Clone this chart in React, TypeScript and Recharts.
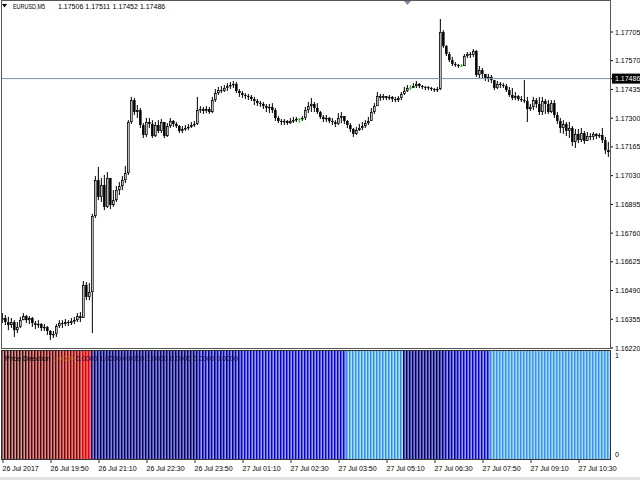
import React from 'react';
import { ComposedChart, BarChart, Bar, XAxis, YAxis, ReferenceLine } from 'recharts';

const FONT = '"Liberation Sans", Arial, sans-serif';

const symbolName = 'EURUSD,M5';
const lastBarOHLC = ['1.17506', '1.17511', '1.17452', '1.17486'];
const bidPrice = 1.17486;
const priceTicks = [1.17705, 1.1757, 1.17435, 1.173, 1.17165, 1.1703, 1.16895, 1.1676, 1.16625, 1.1649, 1.16355, 1.1622];
const priceDomain = [1.1622, 1.178507];

const timeTickBars = [0, 16, 32, 48, 64, 80, 96, 112, 128, 144, 160, 176, 192];
const timeLabels = [
  '26 Jul 2017', '26 Jul 19:50', '26 Jul 21:10', '26 Jul 22:30', '26 Jul 23:50',
  '27 Jul 01:10', '27 Jul 02:30', '27 Jul 03:50', '27 Jul 05:10', '27 Jul 06:30',
  '27 Jul 07:50', '27 Jul 09:10', '27 Jul 10:30',
];

const firstOpen = 1.16351;
const closes = [
  1.16361, 1.16342, 1.16328, 1.16342, 1.16304, 1.16319, 1.16351, 1.1637, 1.16351, 1.16361,
  1.16337, 1.16328, 1.16333, 1.16314, 1.16319, 1.163, 1.16281, 1.16286, 1.16323, 1.16337,
  1.16333, 1.16342, 1.16337, 1.16347, 1.16351, 1.1637, 1.16361, 1.16516, 1.1646, 1.16483,
  1.1684, 1.17009, 1.1693, 1.16986, 1.16883, 1.17019, 1.16892, 1.16915, 1.16962, 1.16981,
  1.17009, 1.17042, 1.17282, 1.17385, 1.17329, 1.17338, 1.17268, 1.17221, 1.17282, 1.17273,
  1.17216, 1.17268, 1.1724, 1.17282, 1.17216, 1.17263, 1.17287, 1.17273, 1.17263, 1.1724,
  1.17249, 1.17254, 1.17259, 1.17268, 1.17273, 1.17338, 1.17343, 1.17334, 1.17343, 1.17329,
  1.17385, 1.17418, 1.17432, 1.17428, 1.17442, 1.17451, 1.17456, 1.17461, 1.17428, 1.17418,
  1.17409, 1.17404, 1.174, 1.1739, 1.17381, 1.17371, 1.17367, 1.17357, 1.17348, 1.17353,
  1.17338, 1.17301, 1.17287, 1.17282, 1.17287, 1.17277, 1.17287, 1.17291, 1.17296, 1.17296,
  1.17301, 1.17338, 1.17357, 1.17367, 1.17348, 1.17329, 1.17306, 1.17296, 1.17301, 1.17287,
  1.17282, 1.17273, 1.17301, 1.1731, 1.17287, 1.17268, 1.17249, 1.17226, 1.17244, 1.17254,
  1.17263, 1.17277, 1.17287, 1.17329, 1.17357, 1.17404, 1.17395, 1.17404, 1.17395, 1.174,
  1.1739, 1.17385, 1.17395, 1.17414, 1.17428, 1.17442, 1.17442, 1.17451, 1.17461, 1.17451,
  1.17447, 1.17446, 1.17442, 1.17437, 1.17432, 1.17437, 1.17705, 1.17639, 1.17602, 1.17573,
  1.17555, 1.1755, 1.17545, 1.17545, 1.17592, 1.17602, 1.17597, 1.17616, 1.17503, 1.17526,
  1.17508, 1.17489, 1.17494, 1.17479, 1.17442, 1.17461, 1.17456, 1.17451, 1.17432, 1.17409,
  1.17395, 1.17404, 1.1739, 1.17385, 1.17381, 1.17343, 1.17353, 1.17385, 1.17367, 1.17329,
  1.17381, 1.17367, 1.17329, 1.17371, 1.17315, 1.17287, 1.17254, 1.17273, 1.1724, 1.17254,
  1.17188, 1.17226, 1.17197, 1.1723, 1.17193, 1.17216, 1.17212, 1.17226, 1.17216, 1.17221,
  1.17197, 1.1715, 1.17141,
];
const highs = [
  1.16384, 1.16375, 1.16366, 1.16361, 1.16351, 1.16342, 1.16366, 1.16384, 1.16375, 1.1637,
  1.16366, 1.16347, 1.16351, 1.16337, 1.16333, 1.16323, 1.16304, 1.163, 1.16333, 1.16351,
  1.16351, 1.16356, 1.16351, 1.16361, 1.16366, 1.16384, 1.16389, 1.16535, 1.1653, 1.16525,
  1.1685, 1.17028, 1.17071, 1.17019, 1.17033, 1.17047, 1.16986, 1.16962, 1.16981, 1.17,
  1.17028, 1.17075, 1.17291, 1.174, 1.17395, 1.17362, 1.17348, 1.17277, 1.17301, 1.17301,
  1.17291, 1.17282, 1.17291, 1.17296, 1.17268, 1.17277, 1.17301, 1.17291, 1.17282, 1.17268,
  1.17263, 1.17268, 1.17273, 1.17282, 1.17287, 1.174, 1.17357, 1.17353, 1.17357, 1.17353,
  1.174, 1.17437, 1.17447, 1.17451, 1.17456, 1.17465, 1.1747, 1.17475, 1.1747, 1.17437,
  1.17428, 1.17418, 1.17414, 1.17409, 1.174, 1.1739, 1.17381, 1.17376, 1.17367, 1.17367,
  1.17371, 1.17348, 1.1731, 1.17296, 1.17296, 1.17291, 1.17301, 1.17306, 1.17306, 1.17301,
  1.1731, 1.17353, 1.17376, 1.17395, 1.17376, 1.17371, 1.17334, 1.17315, 1.17315, 1.17306,
  1.17301, 1.17291, 1.17324, 1.17329, 1.1731, 1.17291, 1.17277, 1.17254, 1.17259, 1.17273,
  1.17282, 1.17291, 1.17306, 1.17348, 1.17371, 1.17423, 1.17414, 1.17414, 1.17404, 1.17409,
  1.17404, 1.174, 1.17404, 1.17423, 1.17447, 1.17456, 1.17456, 1.17465, 1.17475, 1.17465,
  1.17456, 1.17451, 1.17451, 1.17447, 1.17442, 1.17447, 1.17766, 1.17714, 1.17644, 1.17611,
  1.17588, 1.17564, 1.17555, 1.17555, 1.17602, 1.17611, 1.17611, 1.17625, 1.1762, 1.17545,
  1.17536, 1.17503, 1.17508, 1.17503, 1.17479, 1.17475, 1.1747, 1.17465, 1.17461, 1.17447,
  1.17442, 1.17423, 1.17409, 1.17404, 1.17479, 1.174, 1.17367, 1.174, 1.17395, 1.174,
  1.174, 1.1739, 1.17385, 1.17385, 1.17385, 1.17329, 1.17301, 1.17291, 1.17282, 1.17282,
  1.17263, 1.17249, 1.17249, 1.17254, 1.1724, 1.17235, 1.1723, 1.17235, 1.1723, 1.1723,
  1.17254, 1.17212, 1.17188,
];
const lows = [
  1.16337, 1.16328, 1.16304, 1.16314, 1.16272, 1.1629, 1.16314, 1.16351, 1.16337, 1.16333,
  1.16319, 1.16309, 1.16314, 1.163, 1.163, 1.16281, 1.16257, 1.16267, 1.16272, 1.16314,
  1.16314, 1.16323, 1.16323, 1.16328, 1.16333, 1.16342, 1.16342, 1.16361, 1.16445, 1.16445,
  1.1629, 1.16831, 1.16915, 1.16906, 1.16868, 1.16878, 1.16873, 1.16883, 1.16906, 1.16939,
  1.16962, 1.16995, 1.17033, 1.17273, 1.17315, 1.17301, 1.17254, 1.17207, 1.17212, 1.17254,
  1.17207, 1.17212, 1.1723, 1.1723, 1.17207, 1.17212, 1.17254, 1.17259, 1.17254, 1.1723,
  1.1723, 1.1724, 1.17244, 1.17254, 1.17259, 1.17268, 1.17324, 1.1732, 1.17324, 1.1732,
  1.17324, 1.17376, 1.17409, 1.17418, 1.17423, 1.17428, 1.17437, 1.17442, 1.17418, 1.174,
  1.17395, 1.1739, 1.17385, 1.17381, 1.17362, 1.17357, 1.17353, 1.17343, 1.17329, 1.17324,
  1.17324, 1.17287, 1.17277, 1.17268, 1.17268, 1.17268, 1.17273, 1.17277, 1.17282, 1.17277,
  1.17287, 1.17291, 1.17324, 1.17329, 1.17329, 1.1732, 1.17296, 1.17282, 1.17282, 1.17277,
  1.17268, 1.17259, 1.17268, 1.17277, 1.17273, 1.17254, 1.17235, 1.17212, 1.17221, 1.1724,
  1.17244, 1.17254, 1.17268, 1.17287, 1.1732, 1.17357, 1.17381, 1.17385, 1.17385, 1.17385,
  1.17376, 1.17376, 1.17376, 1.17385, 1.17409, 1.17423, 1.17432, 1.17442, 1.17442, 1.17442,
  1.17437, 1.17432, 1.17432, 1.17428, 1.17423, 1.17423, 1.17432, 1.1763, 1.17592, 1.17564,
  1.17545, 1.17541, 1.17536, 1.17541, 1.17545, 1.17583, 1.17583, 1.17588, 1.17494, 1.17489,
  1.17489, 1.17475, 1.1747, 1.17465, 1.17432, 1.17437, 1.17442, 1.17442, 1.17423, 1.174,
  1.17385, 1.17385, 1.17381, 1.17376, 1.17371, 1.17282, 1.17334, 1.17338, 1.17348, 1.17315,
  1.17315, 1.1732, 1.1732, 1.17324, 1.17301, 1.17273, 1.1723, 1.17226, 1.17216, 1.17207,
  1.17169, 1.1716, 1.17183, 1.17188, 1.17179, 1.17193, 1.17197, 1.17197, 1.17202, 1.17207,
  1.17183, 1.17132, 1.17118,
];

const indicatorName = 'Price Direction';
const indicatorValues = ['1.0000', '0.0000', '1.0000', '0.0000', '1.0000', '0.0000', '0.0000', '0.0000'];
const indicatorValueLevels = ['maroon', 'navy', 'navy', 'navy', 'navy', 'navy', 'navy', 'navy'];

// run-length list of the direction histogram: [bar count, level, value]
const directionRuns: [number, string, number][] = [
  [9, 'maroonDeep', 1], [11, 'maroon', 1], [7, 'darkRed', 1], [3, 'red', 1],
  [35, 'navy', 1],
  [1, 'navy', 1], [1, 'blue', 1], [1, 'navy', 1], [1, 'blue', 1],
  [1, 'navy', 1], [1, 'blue', 1], [1, 'navy', 1], [1, 'blue', 1],
  [1, 'navy', 1], [1, 'blue', 1], [1, 'navy', 1], [1, 'blue', 1],
  [1, 'navy', 1], [1, 'blue', 1], [1, 'navy', 1], [1, 'blue', 1],
  [34, 'blue', 1], [19, 'dodger', 1], [13, 'navy', 1],
  [1, 'navy', 1], [1, 'blue', 1], [1, 'navy', 1], [1, 'blue', 1], [1, 'navy', 1], [1, 'blue', 1],
  [10, 'blue', 1], [40, 'sky', 1],
];

const levelPalette: Record<string, { main: string; tint: string; text: string }> = {
  maroonDeep: { main: '#4a0000', tint: '#b07878', text: '#8b4513' },
  maroon: { main: '#660000', tint: '#b86262', text: '#b8621b' },
  darkRed: { main: '#8c0000', tint: '#d05050', text: '#8b4513' },
  red: { main: '#e80000', tint: '#ff2a2a', text: '#ff0000' },
  navy: { main: '#00006e', tint: '#4e4eb4', text: '#0a0a3a' },
  blue: { main: '#0000e8', tint: '#7a7aff', text: '#0a0a3a' },
  dodger: { main: '#1e90ff', tint: '#a0d0ff', text: '#1e90ff' },
  sky: { main: '#2f95ff', tint: '#90c8ff', text: '#1e90ff' },
};

const candleData = closes.map((c, i) => {
  const o = i === 0 ? firstOpen : closes[i - 1];
  const h = Math.max(highs[i], o, c);
  const l = Math.min(lows[i], o, c);
  return { i, open: o, high: h, low: l, close: c, range: [l, h] };
});

const directionData: { i: number; v: number; level: string }[] = [];
directionRuns.forEach(([count, level, value]) => {
  for (let k = 0; k < count; k++) directionData.push({ i: directionData.length, v: value, level });
});

const timeLabelByBar: Record<number, string> = {};
timeTickBars.forEach((b, k) => { timeLabelByBar[b] = timeLabels[k]; });

const Candle = (props: any) => {
  const { x, y, width, height, payload } = props;
  if (!payload || x == null || y == null) return null;
  const top = Math.min(y, y + height);
  const bottom = Math.max(y, y + height);
  const { open, high, low, close } = payload;
  const span = high - low;
  const toY = (v: number) => (span > 0 ? top + ((high - v) / span) * (bottom - top) : top);
  const bw = 2.5;
  const bx = x + (width - bw) / 2;
  const cx = bx + bw / 2;
  const yo = toY(open);
  const yc = toY(close);
  if (open === close) {
    return (
      <g>
        <rect x={cx - 0.5} y={top} width={1} height={Math.max(bottom - top, 1)} fill="#00d000" />
        <rect x={bx} y={yo - 0.5} width={bw} height={1} fill="#00d000" />
      </g>
    );
  }
  const bTop = Math.min(yo, yc);
  const bH = Math.max(Math.abs(yo - yc), 1);
  const up = close > open;
  return (
    <g>
      <rect x={cx - 0.5} y={top} width={1} height={Math.max(bottom - top, 1)} fill="#000" />
      {up ? (
        <rect x={bx + 0.4} y={bTop + 0.4} width={bw - 0.8} height={Math.max(bH - 0.8, 0.5)} fill="#e8e8e8" stroke="#000" strokeWidth={0.8} />
      ) : (
        <rect x={bx} y={bTop} width={bw} height={bH} fill="#000" />
      )}
    </g>
  );
};

const DirectionBar = (props: any) => {
  const { x, y, width, height, payload } = props;
  if (!payload || x == null) return null;
  const pal = levelPalette[payload.level];
  const top = Math.min(y, y + height);
  const h = Math.abs(height);
  return (
    <g>
      <rect x={x} y={top} width={width - 1} height={h} fill={pal.main} />
      <rect x={x + width - 1} y={top} width={1} height={h} fill={pal.tint} />
    </g>
  );
};

const PriceTick = (props: any) => {
  const { x, y, payload } = props;
  const v = payload.value as number;
  const label = v.toFixed(5);
  if (v === bidPrice) {
    return (
      <g>
        <rect x={x - 3} y={y - 5} width={28} height={10} fill="#000" />
        <text x={x} y={y} dy={2.5} fill="#fff" fontSize={7} fontFamily={FONT}>{label}</text>
      </g>
    );
  }
  return <text x={x} y={y} dy={2.5} fill="#000" fontSize={7} fontFamily={FONT}>{label}</text>;
};

const LevelTick = (props: any) => {
  const { x, y, payload } = props;
  const v = payload.value as number;
  const dy = v >= 1 ? 6.5 : -2.5;
  return <text x={x} y={y} dy={dy} fill="#000" fontSize={7} fontFamily={FONT}>{String(v)}</text>;
};

const TimeTick = (props: any) => {
  const { x, y, payload } = props;
  const label = timeLabelByBar[payload.value as number];
  if (!label) return null;
  const tx = Math.round(x) - 0.5;
  return (
    <g>
      <rect x={tx} y={y + 1} width={1} height={3} fill="#333" />
      <text x={tx} y={y + 11.5} fill="#000" fontSize={7} fontFamily={FONT}>{label}</text>
    </g>
  );
};

export default function App() {
  return (
    <div style={{ position: 'absolute', left: 0, top: 0, width: 640, height: 480, background: '#fff', overflow: 'hidden' }}>
      <div style={{ position: 'absolute', left: 0, top: 349 }}>
        <BarChart width={640} height={131} data={directionData} margin={{ top: 2, right: 0, bottom: 0, left: 1 }} barCategoryGap={0}>
          <XAxis dataKey="i" type="category" height={21} interval={15} axisLine={false} tickLine={false} tickSize={0} tickMargin={0} tick={<TimeTick />} />
          <YAxis
            orientation="right"
            width={30}
            type="number"
            domain={[0, 1]}
            ticks={[0, 1]}
            interval={0}
            axisLine={false}
            tickLine={false}
            tickSize={3}
            tickMargin={2}
            tick={<LevelTick />}
          />
          <Bar dataKey="v" barSize={3} shape={<DirectionBar />} isAnimationActive={false} />
        </BarChart>
      </div>
      <div style={{ position: 'absolute', left: 0, top: 0 }}>
        <ComposedChart width={640} height={355} data={candleData} margin={{ top: 1, right: 0, bottom: 7, left: 1 }}>
          <XAxis dataKey="i" type="category" hide />
          <YAxis
            orientation="right"
            width={30}
            type="number"
            domain={priceDomain}
            allowDataOverflow
            ticks={[...priceTicks, bidPrice]}
            interval={0}
            axisLine={false}
            tickLine={{ stroke: '#000' }}
            tickSize={3}
            tickMargin={2}
            tick={<PriceTick />}
          />
          <ReferenceLine y={bidPrice} stroke="#7f8fa3" strokeWidth={1} />
          <Bar dataKey="range" barSize={3} shape={<Candle />} isAnimationActive={false} />
        </ComposedChart>
      </div>
      <svg width={640} height={480} style={{ position: 'absolute', left: 0, top: 0, pointerEvents: 'none' }}>
        <rect x={1.5} y={0.5} width={609} height={348} fill="none" stroke="#555" strokeWidth={1} />
        <rect x={1.5} y={350.5} width={609} height={109} fill="none" stroke="#333" strokeWidth={1} />
        <rect x={0} y={477} width={640} height={3} fill="#e4e4e4" />
        <polygon points="2,4 7,4 4.5,7.5" fill="#000" />
        <polygon points="404,1 411,1 407.5,5" fill="#7a8a9c" />
        <text y={8.5} fontSize={7} fontFamily={FONT} fill="#000">
          <tspan x={13} textLength={32} lengthAdjust="spacingAndGlyphs">{symbolName}</tspan>
          {lastBarOHLC.map((s, k) => (
            <tspan key={k} x={58 + k * 27.3}>{s}</tspan>
          ))}
        </text>
        <text x={5} y={360.5} fontSize={7} fontFamily={FONT} fill="#000">
          <tspan>{indicatorName}</tspan>
          {indicatorValues.map((s, k) => (
            <tspan key={k} dx={2} fill={levelPalette[indicatorValueLevels[k]].text}>{s}</tspan>
          ))}
        </text>
      </svg>
    </div>
  );
}
